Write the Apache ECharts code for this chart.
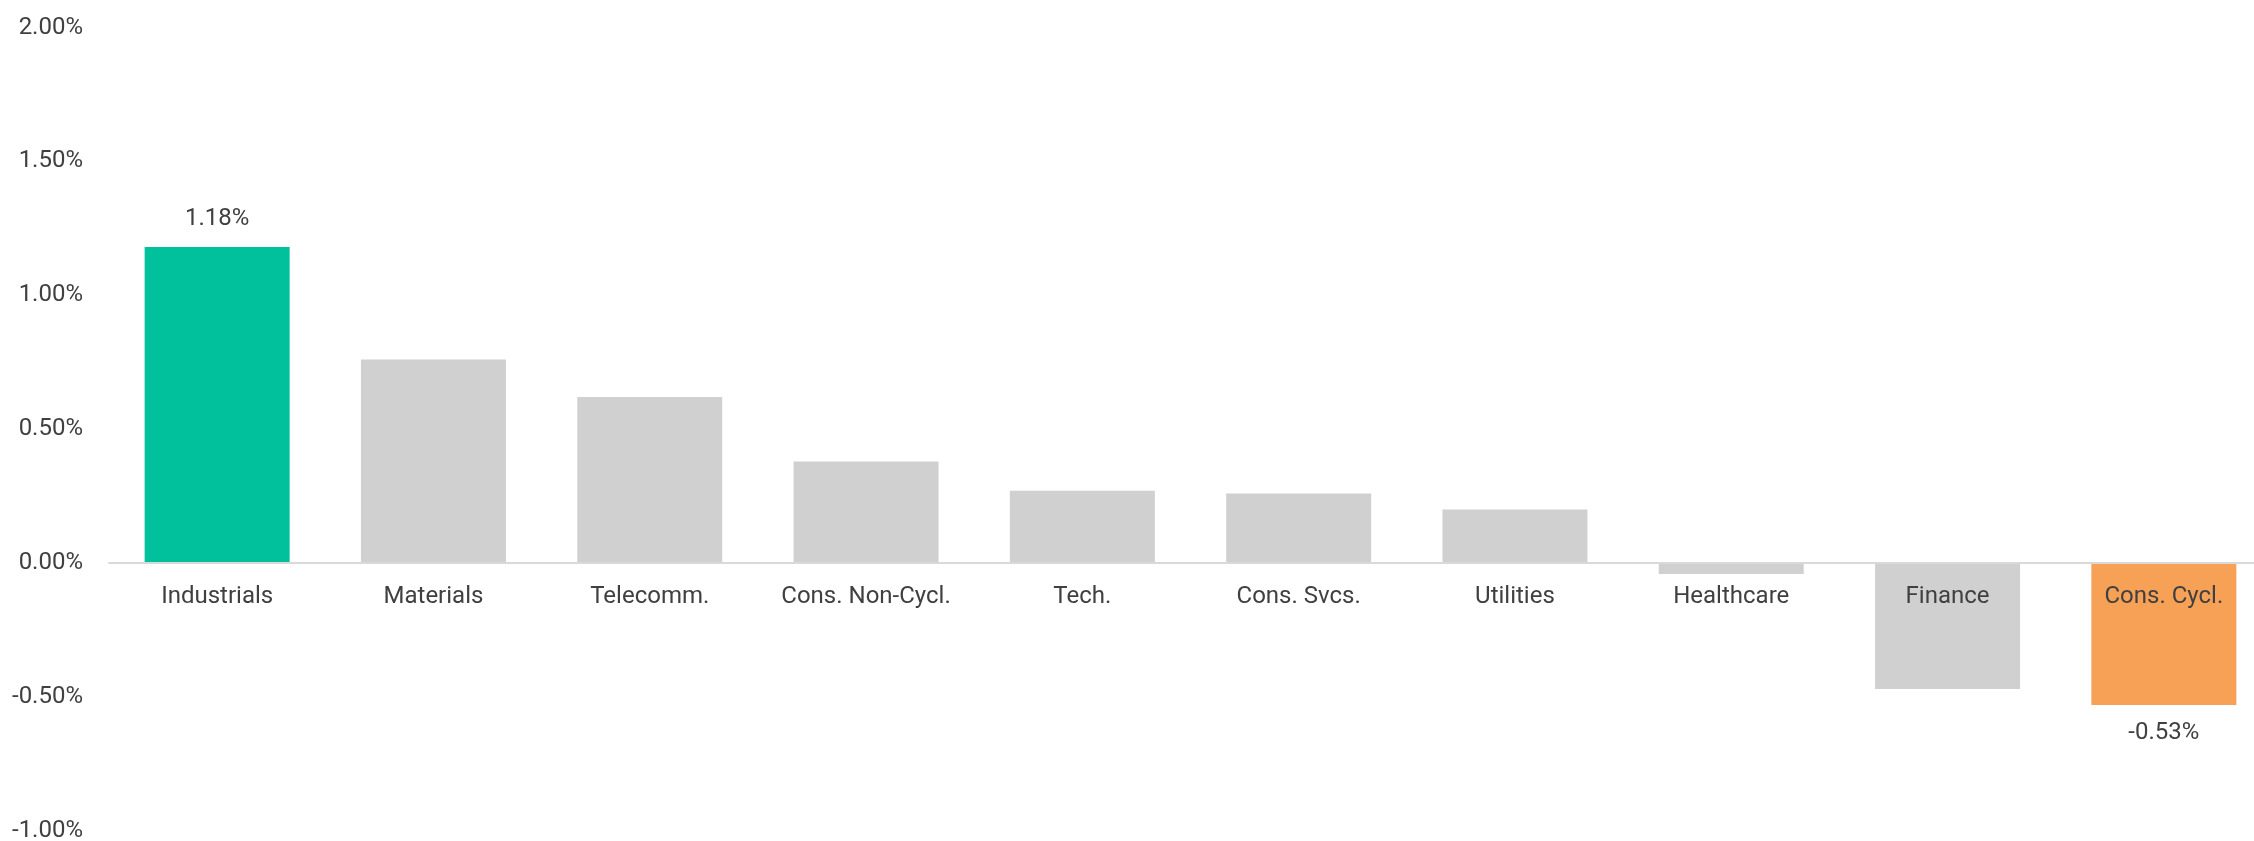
<!DOCTYPE html>
<html>
<head>
<meta charset="utf-8">
<script src="https://cdn.jsdelivr.net/npm/echarts@6/dist/echarts.min.js"></script>
<style>
html,body{margin:0;padding:0;background:#fff;}
#chart{width:2254px;height:841px;}
</style>
</head>
<body>
<div id="chart"></div>
<script>
const categories = ["Industrials","Materials","Telecomm.","Cons. Non-Cycl.","Tech.","Cons. Svcs.","Utilities","Healthcare","Finance","Cons. Cycl."];
const values = [1.18, 0.76, 0.62, 0.38, 0.27, 0.26, 0.20, -0.04, -0.47, -0.53];
const barColors = ["#00C19C","#D0D0D0","#D0D0D0","#D0D0D0","#D0D0D0","#D0D0D0","#D0D0D0","#D0D0D0","#D0D0D0","#F7A157"];
const labeledIdx = [0, 9];
const yTicks = { min: -1, max: 2, interval: 0.5 };

const W = 2254, H = 841;
const grid = { left: 109, right: -18, top: 27.5, bottom: 10 };
const chart = echarts.init(document.getElementById('chart'));
const textColor = '#404040';
const font = 'Roboto';

const data = values.map((v, i) => {
  const item = { value: v, itemStyle: { color: barColors[i] } };
  if (labeledIdx.includes(i)) {
    item.label = {
      show: true,
      position: v >= 0 ? 'top' : 'bottom',
      distance: 16,
      formatter: (p) => p.value.toFixed(2) + '%',
      color: textColor,
      fontFamily: font,
      fontSize: 24
    };
  }
  return item;
});

function build(labelOffset) {
  return {
    animation: false,
    backgroundColor: '#fff',
    grid: Object.assign({ containLabel: false, outerBoundsMode: 'none' }, grid),
    xAxis: [{
      type: 'category',
      data: categories,
      z: 5,
      axisLine: { show: true, onZero: true, lineStyle: { color: '#D9D9D9', width: 2 } },
      axisTick: { show: false },
      axisLabel: { show: false },
      splitLine: { show: false }
    }, {
      type: 'category',
      data: categories,
      position: 'bottom',
      offset: labelOffset,
      z: 10,
      axisLine: { show: false, onZero: false },
      axisTick: { show: false },
      axisLabel: { color: textColor, fontFamily: font, fontSize: 24, margin: 22, interval: 0 },
      splitLine: { show: false }
    }],
    yAxis: {
      type: 'value',
      min: yTicks.min,
      max: yTicks.max,
      interval: yTicks.interval,
      axisLine: { show: false },
      axisTick: { show: false },
      splitLine: { show: false },
      axisLabel: {
        color: textColor, fontFamily: font, fontSize: 24, margin: 26,
        formatter: (v) => v.toFixed(2) + '%'
      }
    },
    series: [{
      type: 'bar',
      data: data,
      barWidth: 145,
      xAxisIndex: 0,
      z: 2
    }]
  };
}

chart.setOption(build(0));
const zeroY = chart.convertToPixel({ yAxisIndex: 0 }, 0);
const gridBottomY = H - grid.bottom;
chart.setOption(build(-(gridBottomY - zeroY)));
</script>
</body>
</html>
